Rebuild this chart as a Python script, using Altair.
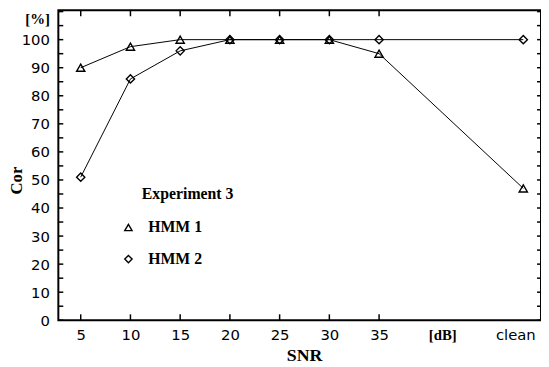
import altair as alt
import pandas as pd

# ---- data ----
snr_labels = ["5", "10", "15", "20", "25", "30", "35", "clean"]
snr_pos = [5, 10, 15, 20, 25, 30, 35, 49.5]
hmm1 = [90, 97.5, 100, 100, 100, 100, 95, 47]
hmm2 = [51, 86, 96, 100, 100, 100, 100, 100]
series_names = ["HMM 1", "HMM 2"]
series_shapes = ["triangle-up", "diamond"]

x_tick_values = [5, 10, 15, 20, 25, 30, 35]
x_label_values = [5, 10, 15, 20, 25, 30, 35, 41.35, 48.7]
y_label_values = [0, 10, 20, 30, 40, 50, 60, 70, 80, 90, 100, 107.4]
y_minor_ticks = list(range(0, 111, 5))

rows = []
for lab, p, a, b in zip(snr_labels, snr_pos, hmm1, hmm2):
    rows.append({"snr": p, "label": lab, "series": "HMM 1", "cor": a})
    rows.append({"snr": p, "label": lab, "series": "HMM 2", "cor": b})
df = pd.DataFrame(rows)

W, H = 489, 314
xs = alt.Scale(domain=[2.75, 51.28], nice=False, zero=False)
ys = alt.Scale(domain=[0, 110.45], nice=False, zero=False)

SANS = "DejaVu Sans"
SERIF = "Liberation Serif"

x_axis = alt.Axis(
    values=x_label_values,
    labelExpr="datum.value > 45 ? 'clean' : (datum.value > 40 ? '[dB]' : datum.label)",
    labelFont={"condition": {"test": "datum.value > 40 && datum.value < 45", "value": SERIF}, "value": SANS},
    labelFontWeight={"condition": {"test": "datum.value > 40 && datum.value < 45", "value": "bold"}, "value": "normal"},
    labelFontSize=15,
    labelColor="black",
    labelPadding=7,
    labelOverlap=False,
    ticks=False,
    domain=False,
    grid=False,
    title="SNR",
    titleFont=SERIF,
    titleFontSize=18,
    titleFontWeight="bold",
    titleColor="black",
    titleX=249,
    titleY=41,
    titleAlign="center",
    titleBaseline="alphabetic",
)
y_axis = alt.Axis(
    values=y_label_values,
    labelExpr="datum.value > 105 ? '[%]' : datum.label",
    labelFont={"condition": {"test": "datum.value > 105", "value": SERIF}, "value": SANS},
    labelFontWeight={"condition": {"test": "datum.value > 105", "value": "bold"}, "value": "normal"},
    labelFontSize=15,
    labelColor="black",
    labelPadding=9,
    labelOverlap=False,
    labelBound=False,
    ticks=False,
    domain=False,
    grid=False,
    title="Cor",
    titleFont=SERIF,
    titleFontSize=17,
    titleFontWeight="bold",
    titleColor="black",
    titleX=-37,
    titleY=172,
    titleAlign="center",
    titleBaseline="alphabetic",
    titleAngle=270,
)

X = alt.X("snr:Q", scale=xs, axis=x_axis)
Y = alt.Y("cor:Q", scale=ys, axis=y_axis)

base = alt.Chart(df)
lines = base.mark_line(color="black", strokeWidth=1).encode(
    x=X, y=Y, detail="series:N",
)
points = base.mark_point(filled=False, color="black", strokeWidth=1.4, size=70, opacity=1).encode(
    x=X,
    y=Y,
    shape=alt.Shape(
        "series:N",
        scale=alt.Scale(domain=series_names, range=series_shapes),
        legend=alt.Legend(
            orient="none",
            legendX=63,
            legendY=212,
            title=None,
            labelFont=SERIF,
            labelFontSize=16,
            labelFontWeight="bold",
            labelColor="black",
            labelOffset=12,
            rowPadding=16,
            symbolSize=55,
            symbolStrokeColor="black",
            symbolStrokeWidth=1.4,
            symbolFillColor="white",
        ),
    ),
)

ydf = pd.DataFrame({"cor": y_minor_ticks})
xdf = pd.DataFrame({"snr": x_tick_values})
left_ticks = alt.Chart(ydf).mark_rule(color="black", strokeWidth=1.5).encode(
    y=Y, x=alt.value(0), x2=alt.value(5))
right_ticks = alt.Chart(ydf).mark_rule(color="black", strokeWidth=1.5).encode(
    y=Y, x=alt.value(W - 4), x2=alt.value(W))
top_ticks = alt.Chart(xdf).mark_rule(color="black", strokeWidth=1.5).encode(
    x=X, y=alt.value(0), y2=alt.value(6))
bottom_ticks = alt.Chart(xdf).mark_rule(color="black", strokeWidth=1.5).encode(
    x=X, y=alt.value(H - 6), y2=alt.value(H))

exp_title = alt.Chart(pd.DataFrame({"t": ["Experiment 3"]})).mark_text(
    font=SERIF, fontSize=16, fontWeight="bold", color="black", align="center", baseline="middle"
).encode(text="t:N", x=alt.value(131), y=alt.value(186))

chart = alt.layer(
    lines, points, left_ticks, right_ticks, top_ticks, bottom_ticks, exp_title
).properties(
    width=W,
    height=H,
    autosize=alt.AutoSizeParams(type="none"),
    padding={"left": 51, "top": 0, "right": 0, "bottom": 45},
).configure_view(stroke="black", strokeWidth=2)

chart.save("out.html", embed_options={"renderer": "svg", "actions": False})
